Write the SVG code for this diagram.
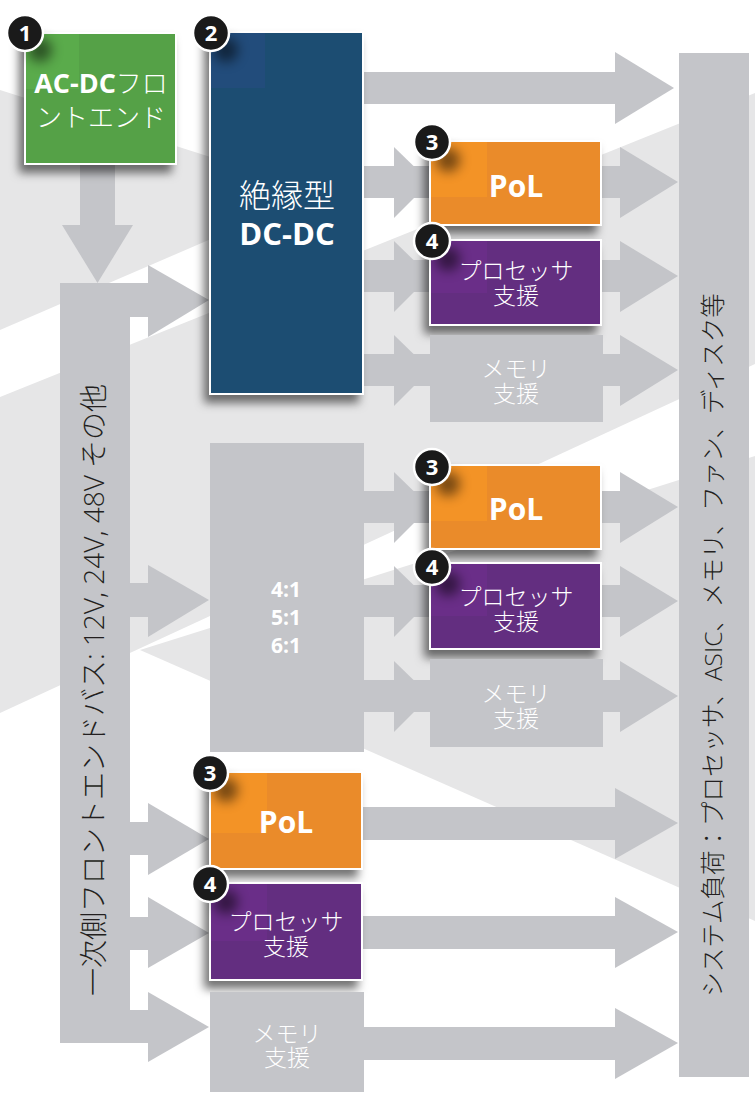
<svg xmlns="http://www.w3.org/2000/svg" width="755" height="1101" viewBox="0 0 755 1101">
<defs>
<style>
.bg{fill:#e6e6e7}
.ar{fill:#c4c5c9}
.box{stroke:#fff;stroke-width:2}
.green{fill:#55a146}
.blue{fill:#1d4e72}
.orange{fill:#ea8b2b}
.purple{fill:#642e80}
.grey{fill:#c4c5c9}
.jp{font-family:"Noto Sans CJK JP",sans-serif;font-weight:300;fill:#fff;text-anchor:middle}
.bd{font-family:"Open Sans","Noto Sans CJK JP",sans-serif;font-weight:700;fill:#fff;text-anchor:middle}
.dark{font-family:"Open Sans","Noto Sans CJK JP",sans-serif;font-weight:300;fill:#231f20;text-anchor:middle}
.badge circle{fill:#1a1a1a;stroke:#fff;stroke-width:2.5}
.badge text{font-family:"Open Sans",sans-serif;font-weight:700;font-size:22px;fill:#fff;text-anchor:middle}
.spot{fill:#000;opacity:0.5}
</style>
<filter id="sh" x="-30%" y="-30%" width="160%" height="160%">
<feDropShadow dx="-5" dy="8" stdDeviation="5" flood-color="#000" flood-opacity="0.55"/>
</filter>
<filter id="blur" x="-100%" y="-100%" width="300%" height="300%">
<feGaussianBlur stdDeviation="6"/>
</filter>
<g id="row">
<rect x="363" y="-16" width="258" height="32"/>
<polygon points="394,-35 430,0 394,36"/>
<polygon points="620,-35 678,0 620,36"/>
</g>
<g id="rowB">
<rect x="362" y="-16" width="254" height="33"/>
<polygon points="615,-35 678,0 615,36"/>
</g>
</defs>

<rect width="755" height="1101" fill="#fff"/>
<g id="background">
<polygon class="bg" points="0,90 320,192 0,330"/>
<polygon class="bg" points="0,397 755,93 755,364 0,713"/>
<polygon class="bg" points="140,650 755,456 755,921"/>
</g>

<g id="connectors" class="ar">
<rect x="80" y="163" width="35" height="63"/>
<polygon points="62,225 133,225 97.5,283"/>
<rect x="129" y="283" width="20" height="34"/>
<polygon points="148,265 209,300 148,337"/>
<rect x="129" y="583" width="20" height="34"/>
<polygon points="148,565 209,600 148,637"/>
<rect x="129" y="822" width="20" height="33"/>
<polygon points="148,803 209,839 148,875"/>
<rect x="129" y="917" width="20" height="33"/>
<polygon points="148,897 209,933 148,968"/>
<rect x="129" y="1010" width="20" height="33"/>
<polygon points="148,992 209,1027 148,1062"/>
<rect x="363" y="72" width="253" height="32"/>
<polygon points="615,52 674,88 615,124"/>
<use href="#row" y="182"/>
<use href="#row" y="276"/>
<use href="#row" y="370"/>
<use href="#row" y="507"/>
<use href="#row" y="601"/>
<use href="#row" y="696"/>
<use href="#rowB" y="823"/>
<use href="#rowB" y="932"/>
<use href="#rowB" y="1043"/>
</g>

<g id="bus">
<rect class="grey" x="60" y="283" width="70" height="760"/>
<text class="dark" font-size="28" transform="translate(104,690) rotate(-90)">一次側フロントエンドバス: 12V, 24V, 48V その他</text>
</g>

<g id="loads">
<rect class="grey" x="679" y="53" width="70" height="1024"/>
<text class="dark" font-size="24.5" transform="translate(722,645) rotate(-90)">システム負荷：プロセッサ、ASIC、メモリ、ファン、ディスク等</text>
</g>

<g id="acdc">
<rect class="box green" x="25" y="33" width="151" height="131" filter="url(#sh)"/>
<rect x="26" y="34" width="53" height="55" fill="#5aab4b"/>
<circle class="spot" cx="40" cy="50" r="12" filter="url(#blur)"/>
<text class="jp" x="101" y="93" font-size="26"><tspan class="bd" font-size="27">AC-DC</tspan>フロ<tspan x="101" dy="34">ントエンド</tspan></text>
<g class="badge"><circle cx="25" cy="33" r="18"/><text x="25" y="41">1</text></g>
</g>

<g id="isolated-dcdc">
<rect class="box blue" x="210" y="32" width="153" height="362" filter="url(#sh)"/>
<rect x="211" y="33" width="54" height="55" fill="#224c7b"/>
<circle class="spot" cx="226" cy="50" r="12" filter="url(#blur)"/>
<text class="jp" x="287" y="207" font-size="32">絶縁型<tspan class="bd" x="287" dy="38" font-size="31">DC-DC</tspan></text>
<g class="badge"><circle cx="211" cy="33" r="18"/><text x="211" y="41">2</text></g>
</g>

<g id="pol-1">
<rect class="box orange" x="430" y="141" width="171" height="84" filter="url(#sh)"/>
<rect x="431" y="142" width="56" height="55" fill="#f39326"/>
<circle class="spot" cx="448" cy="160" r="12" filter="url(#blur)"/>
<text class="bd" x="516" y="197" font-size="30">PoL</text>
<g class="badge"><circle cx="432" cy="142" r="18"/><text x="432" y="150">3</text></g>
</g>

<g id="proc-1">
<rect class="box purple" x="430" y="240" width="171" height="85" filter="url(#sh)"/>
<rect x="431" y="241" width="56" height="52" fill="#6a2e88"/>
<circle class="spot" cx="448" cy="259" r="12" filter="url(#blur)"/>
<text class="jp" x="516" y="279" font-size="23">プロセッサ<tspan x="516" dy="25">支援</tspan></text>
<g class="badge"><circle cx="432" cy="241" r="18"/><text x="432" y="249">4</text></g>
</g>

<g id="mem-1">
<rect class="grey" x="430" y="335" width="173" height="87"/>
<text class="jp" x="516" y="377" font-size="23">メモリ<tspan x="516" dy="25">支援</tspan></text>
</g>

<g id="ratio">
<rect class="grey" x="210" y="443" width="154" height="309"/>
<text class="bd" x="286" y="597" font-size="21">4:1<tspan x="286" dy="28">5:1</tspan><tspan x="286" dy="28">6:1</tspan></text>
</g>

<g id="pol-2">
<rect class="box orange" x="430" y="465" width="171" height="84" filter="url(#sh)"/>
<rect x="431" y="466" width="56" height="55" fill="#f39326"/>
<circle class="spot" cx="448" cy="484" r="12" filter="url(#blur)"/>
<text class="bd" x="516" y="520" font-size="30">PoL</text>
<g class="badge"><circle cx="432" cy="467" r="18"/><text x="432" y="475">3</text></g>
</g>

<g id="proc-2">
<rect class="box purple" x="430" y="563" width="171" height="86" filter="url(#sh)"/>
<rect x="431" y="564" width="56" height="52" fill="#6a2e88"/>
<circle class="spot" cx="448" cy="584" r="12" filter="url(#blur)"/>
<text class="jp" x="516" y="605" font-size="23">プロセッサ<tspan x="516" dy="25">支援</tspan></text>
<g class="badge"><circle cx="432" cy="567" r="18"/><text x="432" y="575">4</text></g>
</g>

<g id="mem-2">
<rect class="grey" x="430" y="659" width="173" height="88"/>
<text class="jp" x="516" y="702" font-size="23">メモリ<tspan x="516" dy="25">支援</tspan></text>
</g>

<g id="pol-3">
<rect class="box orange" x="210" y="772" width="152" height="97" filter="url(#sh)"/>
<rect x="211" y="773" width="56" height="60" fill="#f39326"/>
<circle class="spot" cx="226" cy="790" r="12" filter="url(#blur)"/>
<text class="bd" x="286" y="833" font-size="30">PoL</text>
<g class="badge"><circle cx="210" cy="773" r="18"/><text x="210" y="781">3</text></g>
</g>

<g id="proc-3">
<rect class="box purple" x="210" y="883" width="152" height="97" filter="url(#sh)"/>
<rect x="211" y="884" width="56" height="57" fill="#6a2e88"/>
<circle class="spot" cx="226" cy="902" r="12" filter="url(#blur)"/>
<text class="jp" x="286" y="930" font-size="23">プロセッサ<tspan x="286" dy="25">支援</tspan></text>
<g class="badge"><circle cx="210" cy="884" r="18"/><text x="210" y="892">4</text></g>
</g>

<g id="mem-3">
<rect class="grey" x="210" y="992" width="154" height="100"/>
<text class="jp" x="287" y="1042" font-size="23">メモリ<tspan x="287" dy="24">支援</tspan></text>
</g>
</svg>
